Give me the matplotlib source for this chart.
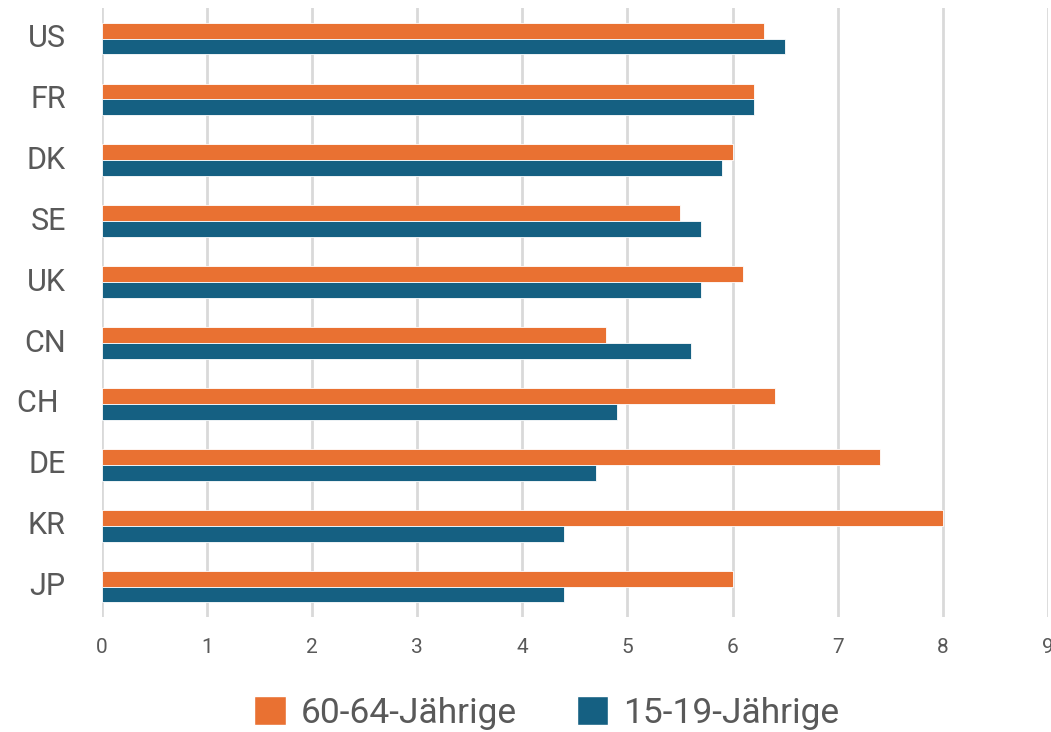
import matplotlib
matplotlib.use("Agg")
import matplotlib.pyplot as plt
import numpy as np
from matplotlib.patches import Patch

################################################################################
#                                   Data                                       #
################################################################################

countries = ["US", "FR", "DK", "SE", "UK", "CN", "CH ", "DE", "KR", "JP"]
age_60_64 = [6.3, 6.2, 6.0, 5.5, 6.1, 4.8, 6.4, 7.4, 8.0, 6.0]
age_15_19 = [6.5, 6.2, 5.9, 5.7, 5.7, 5.6, 4.9, 4.7, 4.4, 4.4]
series_labels = ["60-64-Jährige", "15-19-Jährige"]

ORANGE = "#E97132"
BLUE = "#156082"
TEXT = "#595959"

plt.rcParams['font.family'] = ['Roboto', 'DejaVu Sans']

fig = plt.figure(figsize=(10.51, 7.32), dpi=100)
ax = fig.add_axes([0.097, 0.157, 0.9, 0.832])

y = np.arange(len(countries))
h = 0.26
ax.barh(y - h / 2, age_60_64, h, color=ORANGE, edgecolor="white", linewidth=0.6, zorder=3)
ax.barh(y + h / 2, age_15_19, h, color=BLUE, edgecolor="white", linewidth=0.6, zorder=3)

ax.set_ylim(len(countries) - 0.5, -0.5)
ax.set_xlim(0, 9)
ax.set_xticks(range(0, 10))
ax.set_yticks(y)
ax.set_yticklabels(countries, va="center")
for lab in ax.get_yticklabels():
    lab.set_y(lab.get_position()[1])

ax.grid(axis="x", color="#D9D9D9", linewidth=2, zorder=0)
ax.grid(axis="y", visible=False)
for s in ax.spines.values():
    s.set_visible(False)

ax.tick_params(axis="y", length=0, pad=26, labelsize=22, labelcolor=TEXT)
ax.tick_params(axis="x", length=0, pad=15, labelsize=15, labelcolor=TEXT)

handles = [Patch(facecolor=ORANGE, edgecolor="white"), Patch(facecolor=BLUE, edgecolor="white")]
fig.legend(handles, series_labels, loc="center", bbox_to_anchor=(0.52, 0.026), ncol=2,
           frameon=False, fontsize=25.5, labelcolor=TEXT, handlelength=0.9, handleheight=0.9,
           handletextpad=0.4, columnspacing=1.7)

fig.savefig("out.png", dpi=100)
